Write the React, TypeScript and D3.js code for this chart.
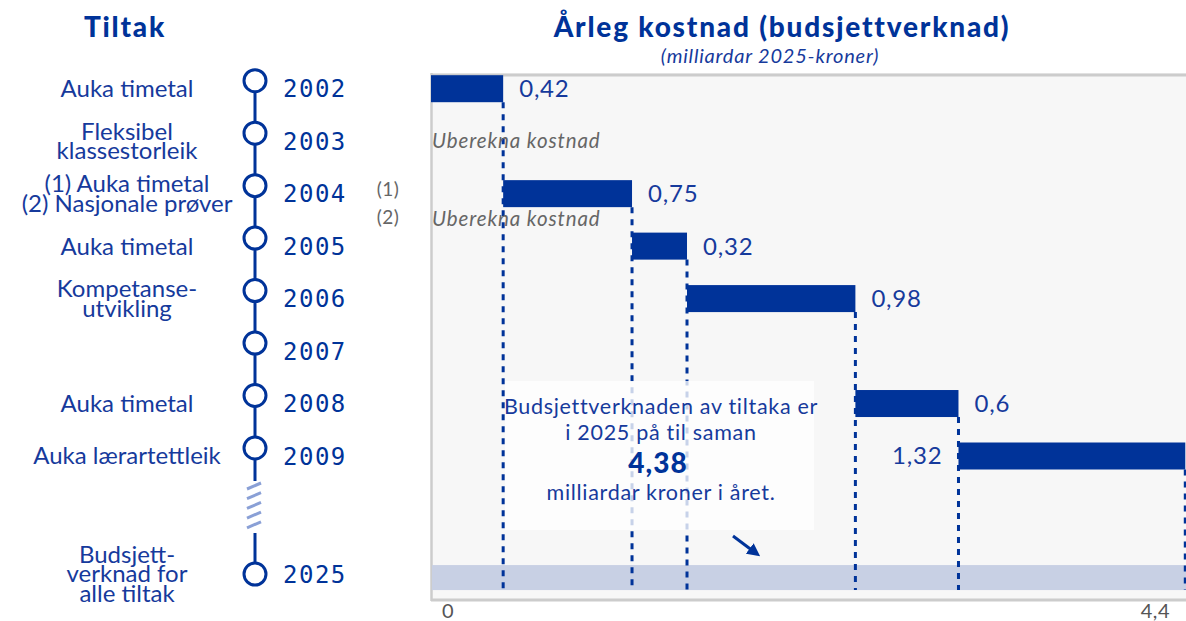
import React from 'react';
import * as d3 from 'd3';

// ---------- data ----------
const years = ['2002', '2003', '2004', '2005', '2006', '2007', '2008', '2009', '2025'];
const measures: string[][] = [
  ['Auka timetal'],
  ['Fleksibel', 'klassestorleik'],
  ['(1) Auka timetal', '(2) Nasjonale prøver'],
  ['Auka timetal'],
  ['Kompetanse-', 'utvikling'],
  [],
  ['Auka timetal'],
  ['Auka lærartettleik'],
  ['Budsjett-', 'verknad for', 'alle tiltak'],
];
const costYears = ['2002', '2004', '2005', '2006', '2008', '2009'];
const costValues = [0.42, 0.75, 0.32, 0.98, 0.6, 1.32];
const costLabels = ['0,42', '0,75', '0,32', '0,98', '0,6', '1,32'];
const unknownNotes = [
  { year: '2003', half: 0, text: 'Uberekna kostnad' },
  { year: '2004', half: 0.48, text: 'Uberekna kostnad' },
];
const refMarks = [
  { year: '2004', half: -0.08, text: '(1)' },
  { year: '2004', half: 0.46, text: '(2)' },
];
const xTicks = [0, 4.4];
const xTickLabels = ['0', '4,4'];
const totalLabel = '4,38';
const totalYear = '2025';

// ---------- layout ----------
const W = 1186;
const H = 621;
const BLUE = '#003399';
const TEXT_BLUE = '#163a9c';
const GRAY = '#666666';
const SANS = 'Lato, "Noto Sans", sans-serif';
const MONO = '"DejaVu Sans Mono", monospace';
const BREAK_SLOT = 9.25;
const CIRCLE_LIFT = 8;

export default function App() {
  const x = d3.scaleLinear().domain([0, 4.4]).range([431, 1187]);
  const slot = (yr: string) => {
    const i = years.indexOf(yr);
    return i < 8 ? i : BREAK_SLOT;
  };
  const yLin = d3.scaleLinear().domain([0, 7]).range([88.7, 456]);
  const y = (yr: string) => yLin(slot(yr));
  const step = yLin(1) - yLin(0);
  const circleY = (yr: string) => (slot(yr) < 8 ? y(yr) - CIRCLE_LIFT : y(yr));

  const starts: number[] = [];
  let acc = 0;
  costValues.forEach((v) => {
    starts.push(acc);
    acc += v;
  });
  const total = acc;

  const barH = 27;
  const bandTop = y(totalYear) - 9;
  const bandH = 25;
  const bandBottom = bandTop + bandH;

  const plotTop = 73;
  const plotBottom = 601;
  const tlX = 255;

  const zigTop = 483;
  const zigCount = 5;
  const zigSpacing = 9.7;

  return (
    <svg width={W} height={H} style={{ position: 'absolute', left: 0, top: 0, background: '#fff' }}>
      {/* titles */}
      <text x={125} y={37} textAnchor="middle" fontFamily={SANS} fontWeight={900} fontSize={28} letterSpacing={1.8} fill={BLUE}>
        Tiltak
      </text>
      <text x={782} y={37} textAnchor="middle" fontFamily={SANS} fontWeight={900} fontSize={28} letterSpacing={1.8} fill={BLUE}>
        Årleg kostnad (budsjettverknad)
      </text>
      <text x={770} y={63} textAnchor="middle" fontFamily={SANS} fontStyle="italic" fontSize={20} letterSpacing={0.8} fill={TEXT_BLUE}>
        (milliardar 2025-kroner)
      </text>

      {/* plot background & frame */}
      <rect x={x(0)} y={plotTop} width={W - x(0)} height={plotBottom - plotTop} fill="#f7f7f7" />
      <line x1={x(0)} x2={W} y1={plotTop + 2} y2={plotTop + 2} stroke="#cccccc" strokeWidth={3} />
      <line x1={x(0)} x2={W} y1={plotBottom - 1} y2={plotBottom - 1} stroke="#cccccc" strokeWidth={3} />
      <line x1={x(0) + 0.5} x2={x(0) + 0.5} y1={plotTop} y2={plotBottom} stroke="#cccccc" strokeWidth={2.5} />

      {/* total band */}
      <rect x={x(0) + 1} y={bandTop} width={x(total) - x(0)} height={bandH} fill="#c8d0e4" />

      {/* bars */}
      {costValues.map((v, i) => (
        <rect
          key={'b' + i}
          x={x(starts[i])}
          y={y(costYears[i]) - barH / 2}
          width={x(starts[i] + v) - x(starts[i])}
          height={barH}
          fill={BLUE}
        />
      ))}

      {/* dotted drop lines */}
      {costValues.map((v, i) => (
        <line
          key={'d' + i}
          x1={x(starts[i] + v)}
          x2={x(starts[i] + v)}
          y1={y(costYears[i]) + barH / 2}
          y2={bandBottom}
          stroke={BLUE}
          strokeWidth={3}
          strokeDasharray="6 6"
        />
      ))}

      {/* value labels */}
      {costValues.map((v, i) => {
        const last = i === costValues.length - 1;
        const xe = x(starts[i] + v);
        return (
          <text
            key={'l' + i}
            x={last ? x(starts[i]) - 16 : xe + 16}
            y={y(costYears[i])}
            dy="0.35em"
            textAnchor={last ? 'end' : 'start'}
            fontFamily={SANS}
            fontSize={24}
            letterSpacing={0.8}
            fill={TEXT_BLUE}
          >
            {costLabels[i]}
          </text>
        );
      })}

      {/* unknown cost notes */}
      {unknownNotes.map((n, i) => (
        <text
          key={'u' + i}
          x={x(0) + 1}
          y={y(n.year) + n.half * step}
          dy="0.35em"
          fontFamily={SANS}
          fontStyle="italic"
          fontSize={20.5}
          letterSpacing={0.9}
          fill={GRAY}
        >
          {n.text}
        </text>
      ))}
      {refMarks.map((n, i) => (
        <text
          key={'r' + i}
          x={388}
          y={y(n.year) + n.half * step}
          dy="0.35em"
          textAnchor="middle"
          fontFamily={SANS}
          fontSize={19}
          letterSpacing={0.5}
          fill={GRAY}
        >
          {n.text}
        </text>
      ))}

      {/* annotation box */}
      <rect x={505} y={381} width={309} height={149} fill="#ffffff" fillOpacity={0.78} />
      <g fontFamily={SANS} fill={TEXT_BLUE} textAnchor="middle">
        <text x={661} y={406} dy="0.35em" fontSize={21.5} letterSpacing={0.7}>
          Budsjettverknaden av tiltaka er
        </text>
        <text x={661} y={432} dy="0.35em" fontSize={21.5} letterSpacing={0.7}>
          i 2025 på til saman
        </text>
        <text x={658} y={463} dy="0.35em" fontSize={28} fontWeight={900} letterSpacing={1} fill={BLUE}>
          {totalLabel}
        </text>
        <text x={661} y={492} dy="0.35em" fontSize={21.5} letterSpacing={0.7}>
          milliardar kroner i året.
        </text>
      </g>
      <defs>
        <marker
          id="ah"
          viewBox="0 0 10 10"
          refX={7}
          refY={5}
          markerUnits="userSpaceOnUse"
          markerWidth={13}
          markerHeight={13}
          orient="auto"
        >
          <path d="M0,0 L10,5 L0,10 z" fill={BLUE} />
        </marker>
      </defs>
      <line x1={733} y1={536} x2={757} y2={554} stroke={BLUE} strokeWidth={3} markerEnd="url(#ah)" />

      {/* x axis tick labels */}
      {xTicks.map((t, i) => (
        <text
          key={'t' + i}
          x={i === 0 ? x(t) + 11 : x(t) - 17}
          y={611}
          dy="0.35em"
          textAnchor={i === 0 ? 'start' : 'end'}
          fontFamily={SANS}
          fontSize={20}
          letterSpacing={0.5}
          fill="#555555"
        >
          {xTickLabels[i]}
        </text>
      ))}

      {/* timeline */}
      <line x1={tlX} x2={tlX} y1={circleY('2002')} y2={zigTop - 2} stroke={BLUE} strokeWidth={3} />
      {d3.range(zigCount).map((k) => (
        <line
          key={'z' + k}
          x1={tlX - 8}
          x2={tlX + 6}
          y1={zigTop + 6 + k * zigSpacing}
          y2={zigTop + k * zigSpacing}
          stroke="#8aa0d6"
          strokeWidth={3}
        />
      ))}
      <line x1={tlX} x2={tlX} y1={zigTop + 50} y2={circleY('2025')} stroke={BLUE} strokeWidth={3} />
      {years.map((yr) => (
        <circle key={'c' + yr} cx={tlX} cy={circleY(yr)} r={11} fill="#fff" stroke={BLUE} strokeWidth={3} />
      ))}
      {years.map((yr) => (
        <text
          key={'y' + yr}
          x={283}
          y={y(yr)}
          dy="0.36em"
          fontFamily={MONO}
          fontSize={24}
          letterSpacing={1.5}
          fill={BLUE}
        >
          {yr}
        </text>
      ))}
      {years.map((yr, i) => {
        const lines = measures[i];
        const lh = 19.5;
        const y0 = y(yr) - ((lines.length - 1) * lh) / 2;
        return lines.map((ln, j) => (
          <text
            key={'m' + i + '-' + j}
            x={127}
            y={y0 + j * lh}
            dy="0.35em"
            textAnchor="middle"
            fontFamily={SANS}
            fontSize={24}
            fill={TEXT_BLUE}
          >
            {ln}
          </text>
        ));
      })}
    </svg>
  );
}
